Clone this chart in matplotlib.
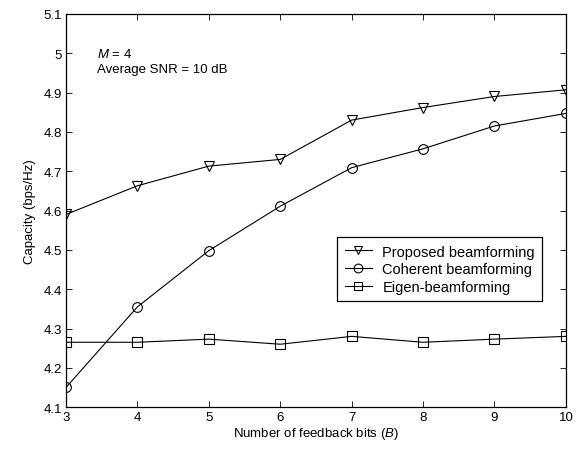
import numpy as np
import matplotlib
matplotlib.use('Agg')
import matplotlib.pyplot as plt

plt.rcParams['font.family'] = ['Liberation Sans', 'DejaVu Sans']
plt.rcParams['mathtext.fontset'] = 'custom'
plt.rcParams['mathtext.it'] = 'Liberation Sans:italic'
plt.rcParams['mathtext.rm'] = 'Liberation Sans'

# datos
bits = [3, 4, 5, 6, 7, 8, 9, 10]
propuesto = [4.59, 4.663, 4.713, 4.73, 4.83, 4.862, 4.89, 4.907]
coherente = [4.15, 4.355, 4.498, 4.611, 4.709, 4.757, 4.815, 4.847]
eigen = [4.265, 4.265, 4.273, 4.26, 4.28, 4.265, 4.273, 4.28]

fig = plt.figure(figsize=(5.84, 4.52), dpi=100)
ax = fig.add_axes([0.113, 0.097, 0.856, 0.870])

estilo = dict(color='black', linewidth=0.8, markerfacecolor='none',
              markeredgecolor='black', markersize=7, markeredgewidth=0.8)
ax.plot(bits, propuesto, marker='v', label='Proposed beamforming', **estilo)
ax.plot(bits, coherente, marker='o', label='Coherent beamforming', **estilo)
ax.plot(bits, eigen, marker='s', label='Eigen-beamforming', **estilo)

ax.set_xlim(3, 10)
ax.set_ylim(4.1, 5.1)
ax.set_xticks(range(3, 11))
ax.set_yticks(np.round(np.arange(4.1, 5.11, 0.1), 1))
ax.set_yticklabels(['4.1', '4.2', '4.3', '4.4', '4.5', '4.6', '4.7', '4.8', '4.9', '5', '5.1'])
ax.tick_params(direction='in', top=True, right=True, labelsize=9.5, length=4, width=0.6, pad=3)
for lado in ax.spines.values():
    lado.set_linewidth(0.9)

ax.set_xlabel('Number of feedback bits ($B$)', fontsize=9.5, labelpad=1)
ax.set_ylabel('Capacity (bps/Hz)', fontsize=9.5, labelpad=5)

ax.text(0.062, 0.915, '$M$ = 4\nAverage SNR = 10 dB', transform=ax.transAxes,
        fontsize=9.5, va='top', ha='left', linespacing=1.25)

leg = ax.legend(loc='upper right', bbox_to_anchor=(0.953, 0.432), fontsize=10.5,
                frameon=True, fancybox=False, edgecolor='black', framealpha=1,
                handlelength=1.9, borderpad=0.5, labelspacing=0.25, handletextpad=0.7,
                borderaxespad=0, markerscale=0.9)
leg.get_frame().set_linewidth(0.9)

fig.savefig('out.png', dpi=100)
